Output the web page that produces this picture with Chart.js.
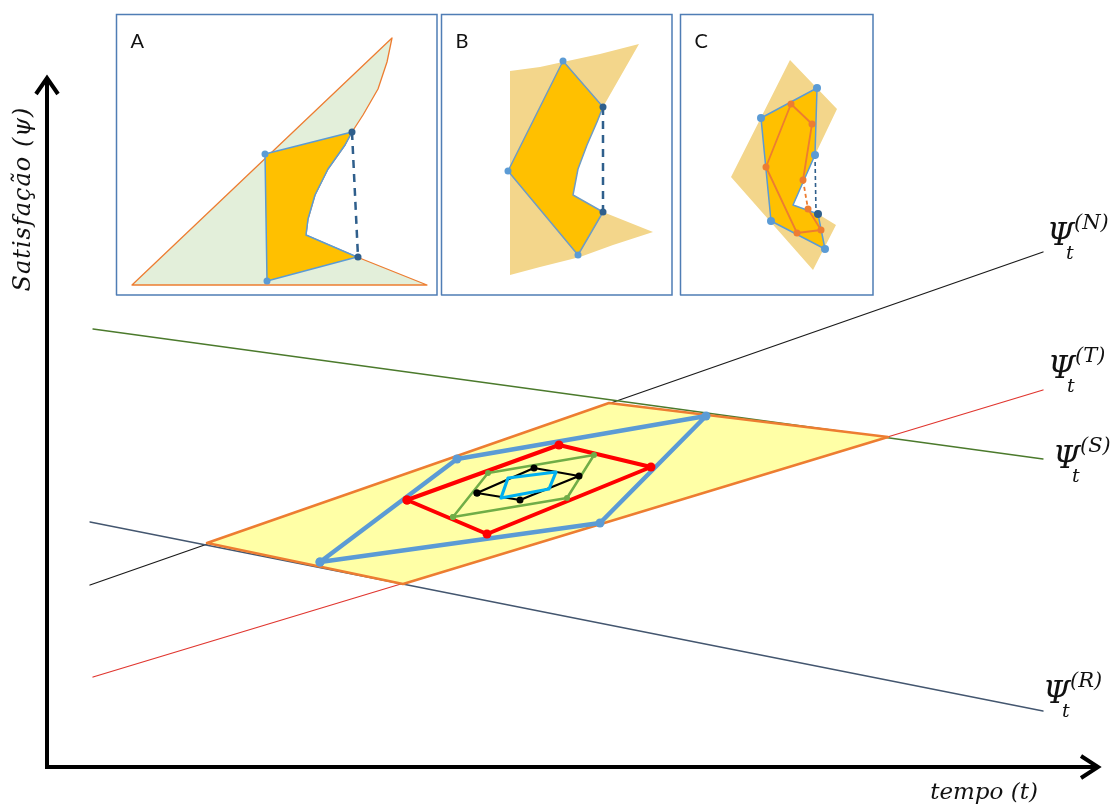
<!DOCTYPE html>
<html>
<head>
<meta charset="utf-8">
<script src="https://cdn.jsdelivr.net/npm/chart.js@4.4.1/dist/chart.umd.min.js"></script>
<style>
  html, body { margin: 0; padding: 0; background: #fff; }
  #wrap { width: 1118px; height: 805px; }
</style>
</head>
<body>
<div id="wrap"><canvas id="chart"></canvas></div>
<script>
// coordinates are (t, ψ) with the origin where the two axes meet

const tAxis = [{x: -2, y: 0}, {x: 1048, y: 0}];
const psiAxis = [{x: 0, y: -2}, {x: 0, y: 686}];
const tArrow = [{x: 1034, y: 11}, {x: 1051, y: 0}, {x: 1034, y: -11}];
const psiArrow = [{x: -11, y: 673}, {x: 0, y: 689}, {x: 11, y: 673}];

// satisfaction trends
const seriesNames = ['N', 'T', 'S', 'R'];
const psiN = [{x: 43, y: 182}, {x: 996, y: 515}];
const psiT = [{x: 46, y: 90}, {x: 996, y: 377}];
const psiS = [{x: 46, y: 438}, {x: 996, y: 308}];
const psiR = [{x: 43, y: 245}, {x: 996, y: 56}];

// feasible region and nested solutions
const region = [{x: 160, y: 224}, {x: 562, y: 364}, {x: 841, y: 330}, {x: 356, y: 183}];
const blueSet = [{x: 273, y: 205}, {x: 410, y: 308}, {x: 659, y: 351}, {x: 553, y: 244}];
const redSet = [{x: 360, y: 267}, {x: 512, y: 322}, {x: 604, y: 300}, {x: 440, y: 233}];
const greenSet = [{x: 406, y: 250}, {x: 441, y: 294}, {x: 547, y: 312}, {x: 520, y: 269}];
const blackSet = [{x: 430, y: 274}, {x: 487, y: 299}, {x: 532, y: 291}, {x: 473, y: 267}];
const cyanSet = [{x: 454, y: 269}, {x: 461, y: 289}, {x: 509, y: 295}, {x: 502, y: 278}];

// detail panels
const panelNames = ['A', 'B', 'C'];
const panelFrames = [
  [{x: 69.5, y: 472}, {x: 390, y: 472}, {x: 390, y: 752.5}, {x: 69.5, y: 752.5}],
  [{x: 394.5, y: 472}, {x: 625, y: 472}, {x: 625, y: 752.5}, {x: 394.5, y: 752.5}],
  [{x: 633.5, y: 472}, {x: 826, y: 472}, {x: 826, y: 752.5}, {x: 633.5, y: 752.5}],
];

const feasibleA = [
  {x: 85, y: 482}, {x: 345, y: 729}, {x: 340, y: 705}, {x: 331, y: 678}, {x: 316, y: 652},
  {x: 305, y: 635}, {x: 298, y: 622}, {x: 281, y: 598}, {x: 268, y: 572}, {x: 261, y: 548},
  {x: 259, y: 532}, {x: 310, y: 510}, {x: 380, y: 482},
];
const solutionA = [
  {x: 218, y: 613}, {x: 305, y: 635}, {x: 298, y: 622}, {x: 281, y: 598}, {x: 268, y: 572},
  {x: 261, y: 548}, {x: 259, y: 532}, {x: 310, y: 510}, {x: 220, y: 486},
];
const gapA = [{x: 305, y: 635}, {x: 311, y: 510}];
const cornersA = [{x: 218, y: 613}, {x: 220, y: 486}];

const feasibleB = [
  {x: 463, y: 696}, {x: 493, y: 700}, {x: 516, y: 705}, {x: 553, y: 713}, {x: 592, y: 723},
  {x: 556, y: 660}, {x: 550, y: 645}, {x: 540, y: 622}, {x: 531, y: 598}, {x: 526, y: 572},
  {x: 556, y: 555}, {x: 606, y: 535}, {x: 566, y: 522}, {x: 533, y: 510}, {x: 493, y: 500},
  {x: 463, y: 492},
];
const solutionB = [
  {x: 516, y: 706}, {x: 556, y: 660}, {x: 550, y: 645}, {x: 540, y: 622}, {x: 531, y: 598},
  {x: 526, y: 572}, {x: 556, y: 555}, {x: 531, y: 512}, {x: 461, y: 596},
];
const gapB = [{x: 556, y: 660}, {x: 556, y: 555}];
const cornersB = [{x: 516, y: 706}, {x: 461, y: 596}, {x: 531, y: 512}];

const feasibleC = [
  {x: 743, y: 707}, {x: 790, y: 658}, {x: 779, y: 635}, {x: 768, y: 612}, {x: 746, y: 562},
  {x: 771, y: 553}, {x: 789, y: 542}, {x: 766, y: 497}, {x: 684, y: 590},
];
const solutionC = [
  {x: 714, y: 649}, {x: 770, y: 679}, {x: 768, y: 612}, {x: 746, y: 562}, {x: 771, y: 553},
  {x: 778, y: 518}, {x: 724, y: 546},
];
const refinedC = [
  {x: 761, y: 558}, {x: 774, y: 537}, {x: 750, y: 534}, {x: 719, y: 600},
  {x: 744, y: 663}, {x: 765, y: 643}, {x: 756, y: 587},
];
const refinedGapC = [{x: 756, y: 587}, {x: 761, y: 558}];
const gapC = [{x: 768, y: 612}, {x: 769, y: 555}];
const cornersC = [{x: 714, y: 649}, {x: 770, y: 679}, {x: 768, y: 612}, {x: 778, y: 518}, {x: 724, y: 546}];
const tipsC = [{x: 771, y: 553}];

function closed(points) {
  return points.concat([points[0]]);
}

function line(data, color, width, extra) {
  return Object.assign({
    data: data,
    showLine: true,
    borderColor: color,
    borderWidth: width,
    pointRadius: 0,
    fill: false,
    tension: 0,
    borderJoinStyle: 'round',
    borderCapStyle: 'round',
  }, extra || {});
}

function area(data, fillColor, borderColor, width, extra) {
  return line(closed(data), borderColor, width,
    Object.assign({fill: 'shape', backgroundColor: fillColor}, extra || {}));
}

function ring(data, color, width, r) {
  return line(closed(data), color, width, {
    pointRadius: r,
    pointBackgroundColor: color,
    pointBorderWidth: 0,
  });
}

function dots(data, color, r) {
  return {
    data: data,
    showLine: false,
    pointRadius: r,
    pointBackgroundColor: color,
    pointBorderWidth: 0,
  };
}

const none = 'rgba(0,0,0,0)';
const gold = '#ffc000';
const paleGold = '#f3d68b';
const steel = '#5b9bd5';
const navy = '#2f5f8c';
const orange = '#ed7d31';

// listed back to front
const datasets = [
  line(closed(panelFrames[0]), '#4f7db5', 1.5, {borderJoinStyle: 'miter'}),
  line(closed(panelFrames[1]), '#4f7db5', 1.5, {borderJoinStyle: 'miter'}),
  line(closed(panelFrames[2]), '#4f7db5', 1.5, {borderJoinStyle: 'miter'}),

  area(feasibleA, '#e3efda', orange, 1.3),
  area(solutionA, gold, steel, 1.5),
  line(gapA, navy, 2.5, {borderDash: [8, 6], borderCapStyle: 'butt'}),
  dots(cornersA, steel, 3.5),
  dots(gapA, navy, 3.5),

  area(feasibleB, paleGold, none, 0.1),
  area(solutionB, gold, '#6f9cc4', 1.5),
  line(gapB, navy, 2.5, {borderDash: [8, 6], borderCapStyle: 'butt'}),
  dots(cornersB, steel, 3.5),
  dots(gapB, navy, 3.5),

  area(feasibleC, paleGold, none, 0.1),
  area(solutionC, gold, steel, 1.5),
  line(refinedC, orange, 1.8),
  line(refinedGapC, orange, 1.8, {borderDash: [4, 3], borderCapStyle: 'butt'}),
  line(gapC, navy, 1.6, {borderDash: [4, 3], borderCapStyle: 'butt'}),
  dots(refinedC, orange, 3.5),
  dots(cornersC, steel, 4),
  dots(tipsC, navy, 4),

  line(psiN, '#1a1a1a', 1.3),
  line(psiT, '#e0362f', 1.3),
  line(psiS, '#4b7a2c', 1.3),
  line(psiR, '#43566f', 1.3),

  area(region, '#ffffa6', orange, 2.5),
  ring(blueSet, steel, 4.5, 4.5),
  ring(redSet, '#ff0000', 4, 4.5),
  ring(greenSet, '#70ad47', 2.5, 3),
  ring(blackSet, '#000000', 2.2, 3.5),
  line(closed(cyanSet), '#00b0f0', 3.2),

  line(tAxis, '#000', 4, {borderCapStyle: 'butt'}),
  line(psiAxis, '#000', 4, {borderCapStyle: 'butt'}),
  line(tArrow, '#000', 4, {borderJoinStyle: 'miter', borderCapStyle: 'butt'}),
  line(psiArrow, '#000', 4, {borderJoinStyle: 'miter', borderCapStyle: 'butt'}),
];
datasets.forEach((d, i) => { d.order = datasets.length - i; });

const seriesData = [psiN, psiT, psiS, psiR];

const diagramText = {
  id: 'diagramText',
  afterDatasetsDraw(chart, args, opts) {
    const {ctx} = chart;
    const sx = chart.scales.x, sy = chart.scales.y;
    const px = (p) => [sx.getPixelForValue(p.x), sy.getPixelForValue(p.y)];
    ctx.save();
    ctx.fillStyle = '#111';
    ctx.textBaseline = 'alphabetic';

    // panel letters
    ctx.font = '20px Lato';
    ctx.textAlign = 'left';
    panelNames.forEach((name, i) => {
      const [fx, fy] = px(panelFrames[i][3]);
      ctx.fillText(name, fx + 14, fy + 33);
    });

    // axis titles
    ctx.font = 'italic 23px "DejaVu Serif"';
    ctx.textAlign = 'center';
    const [tx, ty] = px(opts.tTitle);
    ctx.fillText('tempo (t)', tx, ty);
    const [yx, yy] = px(opts.psiTitle);
    ctx.save();
    ctx.translate(yx, yy);
    ctx.rotate(-Math.PI / 2);
    ctx.font = 'italic 24px "DejaVu Serif"';
    ctx.letterSpacing = '1px';
    ctx.fillText('Satisfação (ψ)', 0, 0);
    ctx.restore();

    // Ψ_t^(k) at the end of each trend
    ctx.textAlign = 'left';
    seriesNames.forEach((name, i) => {
      const end = seriesData[i][seriesData[i].length - 1];
      const [ex, ey] = px(end);
      const [dx, dy] = opts.labelShift[i];
      const bx = ex + dx, by = ey + dy;
      ctx.font = 'italic 31px "DejaVu Serif"';
      ctx.fillText('Ψ', bx, by);
      ctx.font = 'italic 19px "DejaVu Serif"';
      ctx.fillText('t', bx + 19, by + 14);
      ctx.font = 'italic 21px "DejaVu Serif"';
      ctx.fillText('(' + name + ')', bx + 27, by - 16);
    });
    ctx.restore();
  },
};

new Chart(document.getElementById('chart'), {
  type: 'scatter',
  data: {datasets: datasets},
  options: {
    responsive: true,
    maintainAspectRatio: false,
    animation: false,
    events: [],
    layout: {padding: 0, autoPadding: false},
    scales: {
      x: {type: 'linear', min: -47, max: 1071, display: false},
      y: {type: 'linear', min: -38, max: 767, display: false},
    },
    plugins: {
      legend: {display: false},
      tooltip: {enabled: false},
      diagramText: {
        tTitle: {x: 937, y: -32},
        psiTitle: {x: -17, y: 568},
        labelShift: [[4, -7], [5, -12], [10, 9], [0, -8]],
      },
    },
  },
  plugins: [diagramText],
});
</script>
</body>
</html>
